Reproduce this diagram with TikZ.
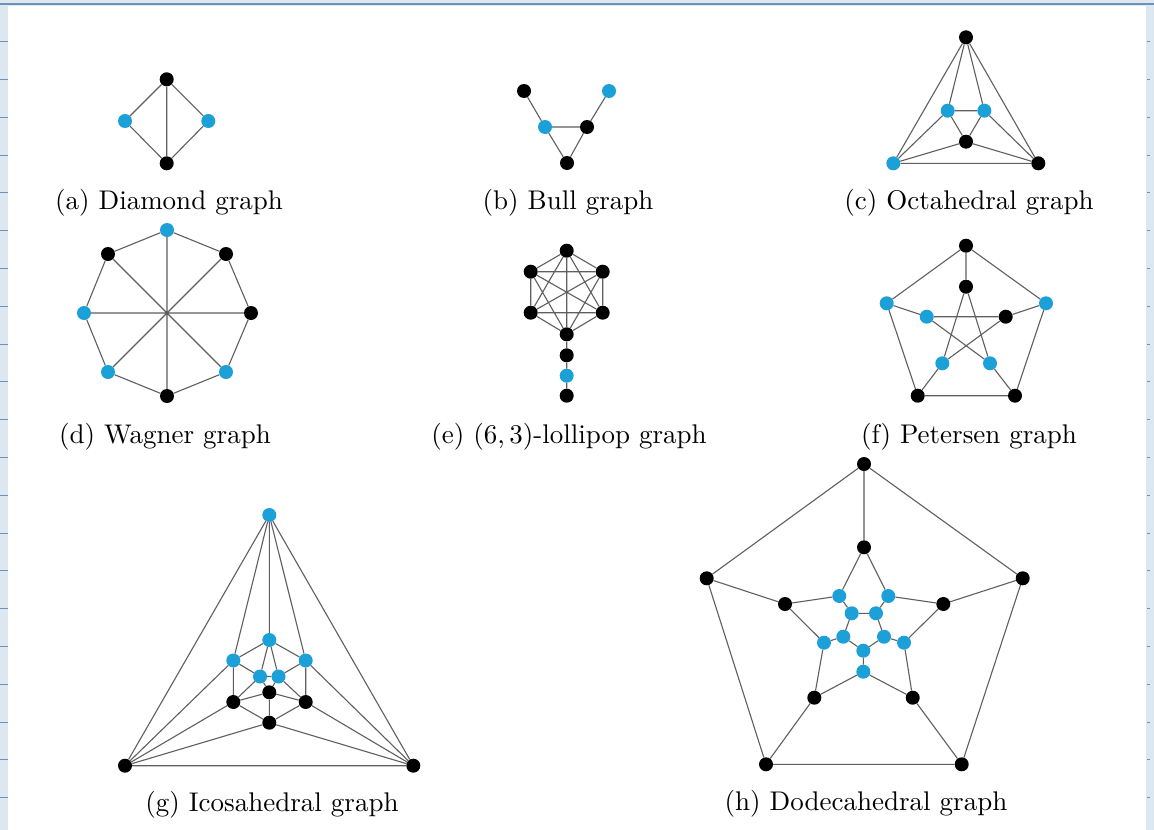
\documentclass[tikz,border=0pt]{standalone}
\usepackage{fontspec}
\setmainfont{Latin Modern Roman}
\definecolor{dotblue}{RGB}{28,160,216}
\definecolor{edgegray}{RGB}{95,95,95}
\definecolor{marginbg}{RGB}{221,231,239}
\definecolor{ruleblue}{RGB}{110,145,185}
\tikzset{
  bv/.style={circle,fill=black,inner sep=0pt,minimum size=14pt},
  cv/.style={circle,fill=dotblue,inner sep=0pt,minimum size=14pt},
  ed/.style={draw=edgegray,line width=1.1pt},
  captxt/.style={inner sep=0pt,font=\fontsize{10}{12}\selectfont,scale=2.7,transform shape}
}
\begin{document}
\begin{tikzpicture}[x=1pt,y=-1pt]
\useasboundingbox (0,0) rectangle (1154,830);
% background page
\fill[marginbg] (0,0) rectangle (1154,830);
\fill[white] (8,6) rectangle (1146,830);
\draw[ruleblue,line width=1.6pt] (0,4) -- (1154,4);
\foreach \yy in {41.7,79.5,117.3,155.1,192.9,230.7,268.5,306.3,344.1,381.9,419.7,457.5,495.3,533.1,570.9,608.7,646.5,684.3,722.1,759.9,797.7}{
  \draw[ruleblue,line width=1pt] (0,\yy) -- (8,\yy);
  \draw[ruleblue,line width=1pt] (1147,\yy) -- (1150,\yy);
}

% (a) Diamond
\node[bv] (a1) at (166.7,79.3) {};
\node[cv] (a2) at (125,121) {};
\node[cv] (a3) at (208.3,121) {};
\node[bv] (a4) at (166.7,163.3) {};
\draw[ed] (a1)--(a2) (a1)--(a3) (a1)--(a4) (a2)--(a4) (a3)--(a4);
\node[captxt] (la) at (169,203) {(a) Diamond graph};

% (b) Bull
\node[bv] (b1) at (524,91) {};
\node[cv] (b2) at (609,91) {};
\node[cv] (b3) at (545,127) {};
\node[bv] (b4) at (587,127) {};
\node[bv] (b5) at (567,163) {};
\draw[ed] (b1)--(b3) (b2)--(b4) (b3)--(b4) (b3)--(b5) (b4)--(b5);
\node[captxt] (lb) at (568,203) {(b) Bull graph};

% (c) Octahedral
\node[bv] (c1) at (966,37.3) {};
\node[cv] (c2) at (947.7,110.7) {};
\node[cv] (c3) at (984.3,110.7) {};
\node[bv] (c4) at (966,141.7) {};
\node[cv] (c5) at (893.3,163.3) {};
\node[bv] (c6) at (1038.3,163.3) {};
\draw[ed] (c1)--(c5) (c1)--(c2) (c1)--(c3) (c1)--(c6)
  (c5)--(c2) (c5)--(c4) (c5)--(c6)
  (c6)--(c3) (c6)--(c4)
  (c2)--(c3) (c2)--(c4) (c3)--(c4);
\node[captxt] (lc) at (969,203) {(c) Octahedral graph};

% (d) Wagner
\node[cv] (w0) at (167,230) {};
\node[bv] (w1) at (226,254) {};
\node[bv] (w2) at (251,313) {};
\node[cv] (w3) at (226,372) {};
\node[bv] (w4) at (167,396) {};
\node[cv] (w5) at (108,372) {};
\node[cv] (w6) at (84,313) {};
\node[bv] (w7) at (108,254) {};
\draw[ed] (w0)--(w1) (w1)--(w2) (w2)--(w3) (w3)--(w4) (w4)--(w5) (w5)--(w6) (w6)--(w7) (w7)--(w0)
  (w0)--(w4) (w1)--(w5) (w2)--(w6) (w3)--(w7);
\node[captxt] (ld) at (165,437) {(d) Wagner graph};

% (e) Lollipop
\node[bv] (e1) at (566.7,250.7) {};
\node[bv] (e2) at (602.7,271.7) {};
\node[bv] (e3) at (602.7,312.7) {};
\node[bv] (e4) at (566.7,334.3) {};
\node[bv] (e5) at (530.7,312.7) {};
\node[bv] (e6) at (530.7,271.7) {};
\node[bv] (e7) at (566.7,355.3) {};
\node[cv] (e8) at (566.7,375.7) {};
\node[bv] (e9) at (566.7,395.7) {};
\draw[ed] (e1)--(e2) (e1)--(e3) (e1)--(e4) (e1)--(e5) (e1)--(e6)
  (e2)--(e3) (e2)--(e4) (e2)--(e5) (e2)--(e6)
  (e3)--(e4) (e3)--(e5) (e3)--(e6)
  (e4)--(e5) (e4)--(e6) (e5)--(e6)
  (e4)--(e7) (e7)--(e8) (e8)--(e9);
\node[captxt] (le) at (569,437) {(e) (6,\,3)-lollipop graph};

% (f) Petersen
\node[bv] (p1) at (966,245.7) {};
\node[cv] (p2) at (1046,303.3) {};
\node[bv] (p3) at (1015,395.7) {};
\node[bv] (p4) at (917.7,395.7) {};
\node[cv] (p5) at (886.7,303.3) {};
\node[bv] (q1) at (966,286.7) {};
\node[bv] (q2) at (1005.7,316.7) {};
\node[cv] (q3) at (990,363.3) {};
\node[cv] (q4) at (942.3,363.3) {};
\node[cv] (q5) at (926.7,316.7) {};
\draw[ed] (p1)--(p2) (p2)--(p3) (p3)--(p4) (p4)--(p5) (p5)--(p1)
  (p1)--(q1) (p2)--(q2) (p3)--(q3) (p4)--(q4) (p5)--(q5)
  (q1)--(q3) (q3)--(q5) (q5)--(q2) (q2)--(q4) (q4)--(q1);
\node[captxt] (lf) at (969,437) {(f) Petersen graph};

% (g) Icosahedral
\node[cv] (gT) at (269.3,515) {};
\node[bv] (gL) at (125,765.7) {};
\node[bv] (gR) at (413.3,765.7) {};
\node[cv] (gBT) at (269.3,640) {};
\node[cv] (gBL) at (233.3,660.5) {};
\node[cv] (gBR) at (305.7,660.5) {};
\node[cv] (gIL) at (260,676.5) {};
\node[cv] (gIR) at (278.5,676.5) {};
\node[bv] (gC) at (269.3,692.3) {};
\node[bv] (gKL) at (233.3,702) {};
\node[bv] (gKR) at (305.7,702) {};
\node[bv] (gB) at (269.3,722.7) {};
\draw[ed] (gT)--(gL) (gT)--(gR) (gT)--(gBL) (gT)--(gBT) (gT)--(gBR)
  (gL)--(gR) (gL)--(gBL) (gL)--(gKL) (gL)--(gB)
  (gR)--(gBR) (gR)--(gKR) (gR)--(gB)
  (gBT)--(gBL) (gBT)--(gBR) (gBT)--(gIL) (gBT)--(gIR)
  (gBL)--(gIL) (gBL)--(gKL) (gBR)--(gIR) (gBR)--(gKR)
  (gIL)--(gIR) (gIL)--(gC) (gIL)--(gKL) (gIR)--(gC) (gIR)--(gKR)
  (gC)--(gKL) (gC)--(gKR) (gC)--(gB) (gKL)--(gB) (gKR)--(gB);
\node[captxt] (lg) at (272,805) {(g) Icosahedral graph};

% (h) Dodecahedral
\node[bv] (o1) at (864,464) {};
\node[bv] (o2) at (1022.7,578.3) {};
\node[bv] (o3) at (961.7,764.3) {};
\node[bv] (o4) at (766,764.3) {};
\node[bv] (o5) at (706.7,578.3) {};
\node[bv] (s1) at (864,547.3) {};
\node[bv] (s2) at (943.3,604) {};
\node[bv] (s3) at (912.7,697.7) {};
\node[bv] (s4) at (814.3,697.7) {};
\node[bv] (s5) at (785,604) {};
\node[cv] (m12) at (888.3,596) {};
\node[cv] (m23) at (904,642.7) {};
\node[cv] (m34) at (863.3,671.7) {};
\node[cv] (m45) at (824,642.7) {};
\node[cv] (m51) at (839.3,596) {};
\node[cv] (i12) at (876,613.3) {};
\node[cv] (i23) at (884,636.7) {};
\node[cv] (i34) at (863.3,650.7) {};
\node[cv] (i45) at (843.3,636.7) {};
\node[cv] (i51) at (851.7,613.3) {};
\draw[ed] (o1)--(o2) (o2)--(o3) (o3)--(o4) (o4)--(o5) (o5)--(o1)
  (o1)--(s1) (o2)--(s2) (o3)--(s3) (o4)--(s4) (o5)--(s5)
  (s1)--(m12) (m12)--(s2) (s2)--(m23) (m23)--(s3) (s3)--(m34) (m34)--(s4) (s4)--(m45) (m45)--(s5) (s5)--(m51) (m51)--(s1)
  (m12)--(i12) (m23)--(i23) (m34)--(i34) (m45)--(i45) (m51)--(i51)
  (i12)--(i23) (i23)--(i34) (i34)--(i45) (i45)--(i51) (i51)--(i12);
\node[captxt] (lh) at (866,804) {(h) Dodecahedral graph};
\end{tikzpicture}
\end{document}
